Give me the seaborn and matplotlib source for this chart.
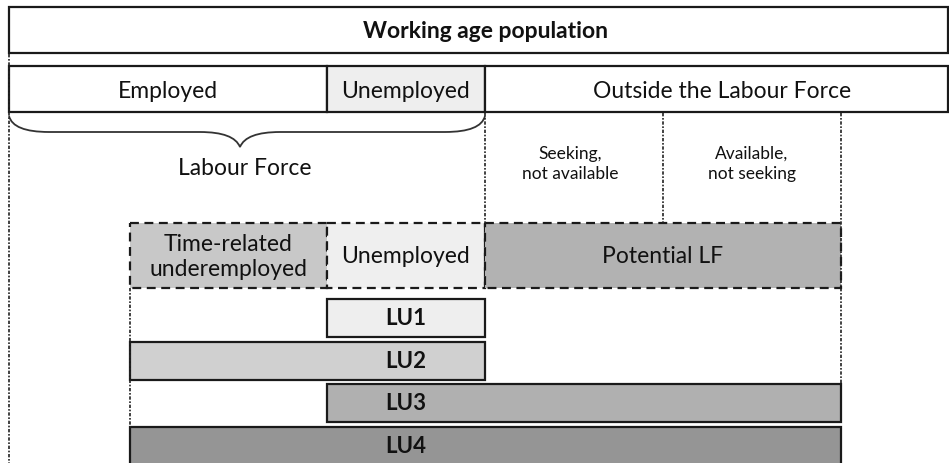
import matplotlib
matplotlib.use("Agg")
import matplotlib.pyplot as plt
import seaborn as sns
from matplotlib.path import Path
from matplotlib.patches import PathPatch

# --- diagram content (x in diagram units, 0..949) ---
pop_label = "Working age population"
pop_edges = [9, 948]

status_labels = ["Employed", "Unemployed", "Outside the Labour Force"]
status_edges = [9, 327, 485, 948]
status_fills = ["white", "#eeeeee", "white"]

lf_label = "Labour Force"
lf_edges = [9, 485]

outside_labels = ["Seeking,\nnot available", "Available,\nnot seeking"]
outside_edges = [485, 663, 841]

slack_labels = ["Time-related\nunderemployed", "Unemployed", "Potential LF"]
slack_edges = [130, 327, 485, 841]
slack_fills = ["#c8c8c8", "#efefef", "#b2b2b2"]

lu_labels = ["LU1", "LU2", "LU3", "LU4"]
lu_start = [327, 130, 327, 130]
lu_end = [485, 485, 841, 841]
lu_fills = ["#eeeeee", "#d0d0d0", "#b0b0b0", "#959595"]

sns.set_theme(style="white")
plt.rcParams["font.family"] = ["Lato", "DejaVu Sans"]

fig = plt.figure(figsize=(9.49, 4.64), dpi=100)
ax = fig.add_axes([0, 0, 1, 1])
ax.set_xlim(0, 949)
ax.set_ylim(464, 0)
ax.axis("off")

big = 16.5
ink = "#111111"

# row 1: working age population
ax.barh(30.5, pop_edges[1] - pop_edges[0], left=pop_edges[0], height=46,
        color="white", edgecolor="#1a1a1a", linewidth=1.6)
ax.text(486, 31, pop_label, ha="center", va="center", fontsize=big, fontweight="bold", color=ink)

# row 2: labour status
for i, lab in enumerate(status_labels):
    x0, x1 = status_edges[i], status_edges[i + 1]
    ax.barh(90, x1 - x0, left=x0, height=46, color=status_fills[i],
            edgecolor="#1a1a1a", linewidth=1.6)
    cx = (x0 + x1) / 2 + (6 if i == 2 else 0)
    ax.text(cx, 91, lab, ha="center", va="center", fontsize=big, color=ink)

# brace under employed + unemployed
x0, x1 = lf_edges
xm = 240
yt, yb, ytip = 117, 133, 148
verts = [(x0, yt), (x0 + 4, yb), (x0 + 40, yb),
         (xm - 40, yb), (xm - 6, yb), (xm, ytip),
         (xm + 6, yb), (xm + 40, yb),
         (x1 - 40, yb), (x1 - 4, yb), (x1, yt)]
codes = [Path.MOVETO, Path.CURVE3, Path.CURVE3,
         Path.LINETO, Path.CURVE3, Path.CURVE3,
         Path.CURVE3, Path.CURVE3,
         Path.LINETO, Path.CURVE3, Path.CURVE3]
ax.add_patch(PathPatch(Path(verts, codes), facecolor="none", edgecolor="#333333", linewidth=1.3))
ax.text(245, 169, lf_label, ha="center", va="center", fontsize=big, color=ink)

# dotted guide lines
dot = dict(color="#222222", linewidth=1.2, linestyle=(0, (2, 1, 1, 1)))
ax.plot([9, 9], [55, 464], **dot)
for xe, yend in zip(outside_edges, [224, 224, 385]):
    ax.plot([xe, xe], [114, yend], **dot)
ax.plot([130, 130], [289, 428], **dot)

for i, lab in enumerate(outside_labels):
    cx = (outside_edges[i] + outside_edges[i + 1]) / 2 + (-4 if i == 0 else 0)
    ax.text(cx, 164, lab, ha="center", va="center", fontsize=12.5, color=ink, linespacing=1.3)

# row 3: slack components, dashed boxes
for i, lab in enumerate(slack_labels):
    x0, x1 = slack_edges[i], slack_edges[i + 1]
    ax.barh(256.5, x1 - x0, left=x0, height=65, color=slack_fills[i],
            edgecolor="#1a1a1a", linewidth=1.6, linestyle=(0, (4, 2.5)))
    ax.text((x0 + x1) / 2, 257, lab, ha="center", va="center", fontsize=big,
            color=ink, linespacing=1.25)

# LU bars
lu_y = [319, 361.5, 404, 447]
for i, lab in enumerate(lu_labels):
    ax.barh(lu_y[i], lu_end[i] - lu_start[i], left=lu_start[i], height=38,
            color=lu_fills[i], edgecolor="#1a1a1a", linewidth=1.6)
    ax.text(406, lu_y[i], lab, ha="center", va="center", fontsize=16,
            fontweight="bold", color=ink)

fig.savefig("out.png", dpi=100)
